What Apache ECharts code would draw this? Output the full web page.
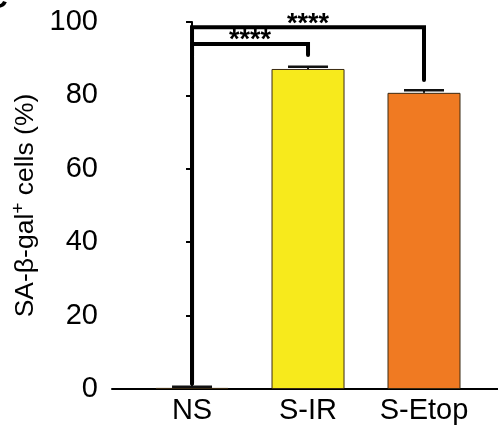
<!DOCTYPE html>
<html>
<head>
<meta charset="utf-8">
<script src="https://cdn.jsdelivr.net/npm/echarts@6/dist/echarts.min.js"></script>
<style>html,body{margin:0;padding:0;background:#fff;}#c{width:498px;height:425px;}</style>
</head>
<body>
<div id="c"></div>
<script>
// ---- data ----
var categories = ['NS', 'S-IR', 'S-Etop'];
var means = [0.3, 87.2, 80.7];
var errors = [0.3, 0.6, 0.7];
var barColors = ['#e8e2c8', '#f7ea1c', '#f07a22'];
var yTicks = [0, 20, 40, 60, 80, 100];
var yTitle = 'SA-β-gal{sup|+} cells (%)';
// significance brackets: [fromIndex, toIndex, barY, leftDropY, rightDropY, label]
var brackets = [
  [0, 2, 98.6, 1.5, 84.2, '****'],
  [0, 1, 94.0, 1.5, 91.0, '****']
];

var chart = echarts.init(document.getElementById('c'), null, {renderer: 'canvas'});
var FONT = 'Liberation Sans, Arial, sans-serif';

var bracketSeries = brackets.map(function (b) {
  return {
    type: 'line', xAxisIndex: 0, yAxisIndex: 0, symbol: 'none', silent: true, z: 5,
    lineStyle: {color: '#000', width: 4, cap: 'round', join: 'miter'},
    data: [[b[0], b[3]], [b[0], b[2]], [b[1], b[2]], [b[1], b[4]]]
  };
});

chart.setOption({
  animation: false,
  backgroundColor: '#fff',
  grid: {left: 112, right: 0, top: 22, bottom: 36},
  xAxis: {
    type: 'value', min: -0.69, max: 2.638,
    axisLine: {show: true, onZero: false, lineStyle: {color: '#000', width: 2}},
    axisTick: {show: false},
    splitLine: {show: false},
    axisLabel: {
      customValues: [0, 1, 2],
      formatter: function (v) { return categories[Math.round(v)]; },
      color: '#000', fontSize: 29, fontFamily: FONT, margin: 7
    }
  },
  yAxis: {
    type: 'value', min: 0, max: 100, interval: 20,
    axisLine: {show: true, lineStyle: {color: '#000', width: 2}},
    axisTick: {show: true, length: 6, lineStyle: {color: '#000', width: 2}},
    splitLine: {show: false},
    axisLabel: {color: '#000', fontSize: 29, fontFamily: FONT, margin: 14,
      formatter: function (v) { return yTicks.indexOf(v) >= 0 ? String(v) : ''; }},
    name: yTitle,
    nameLocation: 'middle', nameGap: 66, nameRotate: 90,
    nameTextStyle: {color: '#000', fontSize: 26.5, fontFamily: FONT,
      rich: {sup: {fontSize: 19, verticalAlign: 'top', padding: [0, 0, 12, 0], color: '#000', fontFamily: FONT}}}
  },
  graphic: [{
    type: 'text', left: -14, top: -15, silent: true,
    style: {text: 'C', fontSize: 30, fontWeight: 'bold', fill: '#000', fontFamily: FONT}
  }],
  series: [{
    type: 'bar', barWidth: 73, z: 2,
    data: means.map(function (m, i) {
      return {value: [i, m], itemStyle: {color: barColors[i], borderColor: '#3a2a12', borderWidth: 1}};
    })
  }, {
    type: 'custom', z: 4, silent: true,
    data: means.map(function (m, i) { return [i, m, errors[i]]; }),
    renderItem: function (params, api) {
      var x = api.value(0), m = api.value(1), e = api.value(2);
      var p0 = api.coord([x, m]);
      var p1 = api.coord([x, m + e]);
      var hw = 20;
      return {type: 'group', children: [
        {type: 'line', shape: {x1: p0[0], y1: p0[1], x2: p1[0], y2: p1[1]}, style: {stroke: '#111', lineWidth: 2}},
        {type: 'line', shape: {x1: p1[0] - hw, y1: p1[1], x2: p1[0] + hw, y2: p1[1]}, style: {stroke: '#111', lineWidth: 2.5}}
      ]};
    }
  }, {
    type: 'custom', z: 6, silent: true,
    data: brackets.map(function (b) { return [(b[0] + b[1]) / 2, b[2]]; }),
    renderItem: function (params, api) {
      var p = api.coord([api.value(0), api.value(1)]);
      return {type: 'text', x: p[0], y: p[1] - 3, style: {
        text: brackets[params.dataIndex][5], textAlign: 'center', textVerticalAlign: 'middle',
        fontSize: 27, fontWeight: 'bold', fontFamily: FONT, fill: '#000'}};
    }
  }].concat(bracketSeries)
});
</script>
</body>
</html>
